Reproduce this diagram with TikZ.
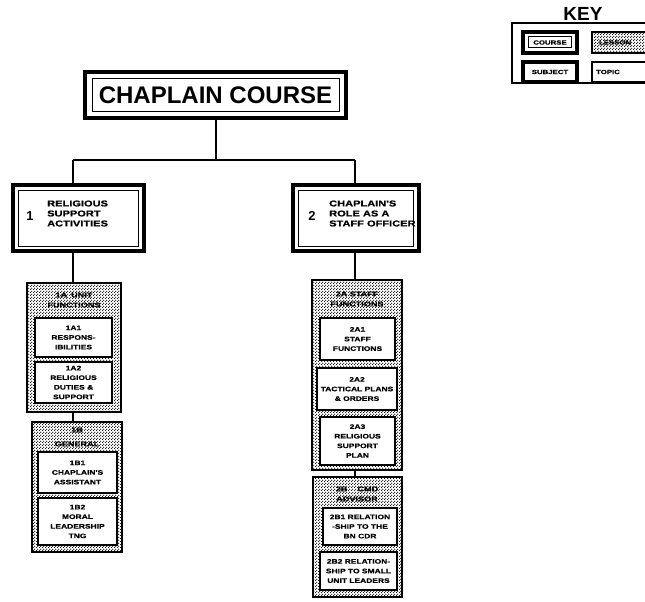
\documentclass[tikz,border=0pt]{standalone}
\usepackage{fontspec}
\setmainfont{Liberation Sans}
\newfontfamily\wf[FakeStretch=1.3,FakeBold=0.6]{Liberation Sans}
\usetikzlibrary{patterns}
\pgfdeclarepatternformonly{fdots}{\pgfqpoint{0pt}{0pt}}{\pgfqpoint{3pt}{3pt}}{\pgfqpoint{3pt}{3pt}}{%
  \pgfpathcircle{\pgfqpoint{0.75pt}{0.75pt}}{0.8pt}%
  \pgfpathcircle{\pgfqpoint{2.25pt}{2.25pt}}{0.8pt}%
  \pgfusepath{fill}}
\begin{document}
\begin{tikzpicture}[x=1pt,y=-1pt,
  conn/.style={line width=2pt},
  box/.style={inner sep=0pt, outer sep=0pt},
  coursebox/.style={box, draw, line width=3.5pt, fill=white},
  subjbox/.style={box, draw, line width=3.5pt, fill=white},
  innerline/.style={line width=1pt},
  lessonbox/.style={box, draw, line width=1.5pt, pattern=fdots},
  topicbox/.style={box, draw, line width=1.5pt, fill=white, align=center,
     font=\wf\bfseries\fontsize{6.5}{9.6}\selectfont},
  ltitle/.style={align=center, inner sep=0pt, font=\wf\bfseries\fontsize{7}{10}\selectfont},
  stext/.style={align=left, inner sep=0pt, anchor=west, font=\wf\bfseries\fontsize{8.5}{10}\selectfont},
  snum/.style={inner sep=0pt, font=\bfseries\fontsize{13}{13}\selectfont},
  keytext/.style={inner sep=0pt, font=\wf\bfseries\fontsize{6}{6}\selectfont}
]
\useasboundingbox (0,0) rectangle (645,602);
\clip (0,0) rectangle (645,602);

% ---------------- KEY ----------------
\node[inner sep=0pt, font=\bfseries\fontsize{19}{19}\selectfont] (keyt) at (583,14) {KEY};
\node[box, draw, line width=1.5pt, minimum width=145, minimum height=60, anchor=north west] (key) at (512,23) {};
\node[coursebox, minimum width=54, minimum height=21] (kcourse) at (550,42.5) {};
\draw[innerline] ([shift={(5.5,5)}]kcourse.north west) rectangle ([shift={(-5.5,-5)}]kcourse.south east);
\node[keytext] at (kcourse.center) {COURSE};
\node[lessonbox, minimum width=62, minimum height=21] (klesson) at (623,42.5) {};
\node[keytext] at ([xshift=-8]klesson.center) {LESSON};
\node[subjbox, minimum width=54, minimum height=20] (ksubject) at (550,72) {};
\node[keytext] at (ksubject.center) {SUBJECT};
\node[box, draw, line width=1.5pt, minimum width=62, minimum height=20] (ktopic) at (623,72) {};
\node[keytext] at ([xshift=-15]ktopic.center) {TOPIC};

% ---------------- COURSE ----------------
\node[coursebox, minimum width=261, minimum height=46, font=\bfseries\fontsize{24}{24}\selectfont] (course) at (215.5,95) {CHAPLAIN COURSE};
\draw[innerline] ([shift={(7,6.5)}]course.north west) rectangle ([shift={(-7,-6.5)}]course.south east);

% ---------------- SUBJECTS ----------------
\node[subjbox, minimum width=131, minimum height=66] (s1) at (78.5,218) {};
\draw[innerline] ([shift={(5.5,5)}]s1.north west) rectangle ([shift={(-5.5,-5)}]s1.south east);
\node[snum] (n1) at (30,216) {1};
\node[stext] (s1t) at (47,213.5) {RELIGIOUS\\SUPPORT\\ACTIVITIES};

\node[subjbox, minimum width=126, minimum height=66] (s2) at (356,218) {};
\draw[innerline] ([shift={(5.5,5)}]s2.north west) rectangle ([shift={(-5.5,-5)}]s2.south east);
\node[snum] (n2) at (312,216) {2};
\node[stext] (s2t) at (329,213.5) {CHAPLAIN'S\\ROLE AS A\\STAFF OFFICER};

% ---------------- LESSONS ----------------
\node[lessonbox, minimum width=94, minimum height=129] (l1a) at (74,347.5) {};
\node[ltitle] (l1at) at (74,300) {1A\hspace{4pt}UNIT\\FUNCTIONS};
\node[lessonbox, minimum width=90, minimum height=130] (l1b) at (77,487) {};
\node[ltitle] (l1bt) at (77,437) {1B\\[4pt]GENERAL};
\node[lessonbox, minimum width=90, minimum height=190] (l2a) at (357,375) {};
\node[ltitle] (l2at) at (357,299) {2A STAFF\\FUNCTIONS};
\node[lessonbox, minimum width=89, minimum height=120] (l2b) at (357.5,537) {};
\node[ltitle] (l2bt) at (357,494) {2B\hspace{10pt}CMD\\ADVISOR};

% ---------------- TOPICS ----------------
\node[topicbox, minimum width=77, minimum height=39] (t1a1) at (73.5,337.5) {1A1\\RESPONS-\\IBILITIES};
\node[topicbox, minimum width=77, minimum height=41] (t1a2) at (73.5,382.5) {1A2\\RELIGIOUS\\DUTIES \&\\SUPPORT};
\node[topicbox, minimum width=79, minimum height=41] (t1b1) at (77.5,472.5) {1B1\\CHAPLAIN'S\\ASSISTANT};
\node[topicbox, minimum width=79, minimum height=47] (t1b2) at (77.5,521.5) {1B2\\MORAL\\LEADERSHIP\\TNG};
\node[topicbox, minimum width=75, minimum height=42] (t2a1) at (357.5,339) {2A1\\STAFF\\FUNCTIONS};
\node[topicbox, minimum width=80, minimum height=42] (t2a2) at (357,389) {2A2\\TACTICAL PLANS\\\& ORDERS};
\node[topicbox, minimum width=75, minimum height=48] (t2a3) at (357.5,441) {2A3\\RELIGIOUS\\SUPPORT\\PLAN};
\node[topicbox, minimum width=74, minimum height=37] (t2b1) at (360,526.5) {2B1 RELATION\\-SHIP TO THE\\BN CDR};
\node[topicbox, minimum width=77, minimum height=38] (t2b2) at (358.5,571) {2B2 RELATION-\\SHIP TO SMALL\\UNIT LEADERS};

% ---------------- CONNECTORS ----------------
\coordinate (j) at (course.south |- 0,160);
\coordinate (j1) at (73,160);
\coordinate (j2) at (355,160);
\draw[conn] (course.south) -- (j);
\draw[conn] (j1) -- (j2);
\draw[conn] (j1) -- (j1 |- s1.north);
\draw[conn] (j2) -- (j2 |- s2.north);
\draw[conn] (s1.south -| j1) -- (j1 |- l1a.north);
\draw[conn] (l1a.south -| j1) -- (j1 |- l1b.north);
\draw[conn] (s2.south -| j2) -- (j2 |- l2a.north);
\draw[conn] (l2a.south -| j2) -- (j2 |- l2b.north);
\end{tikzpicture}
\end{document}
